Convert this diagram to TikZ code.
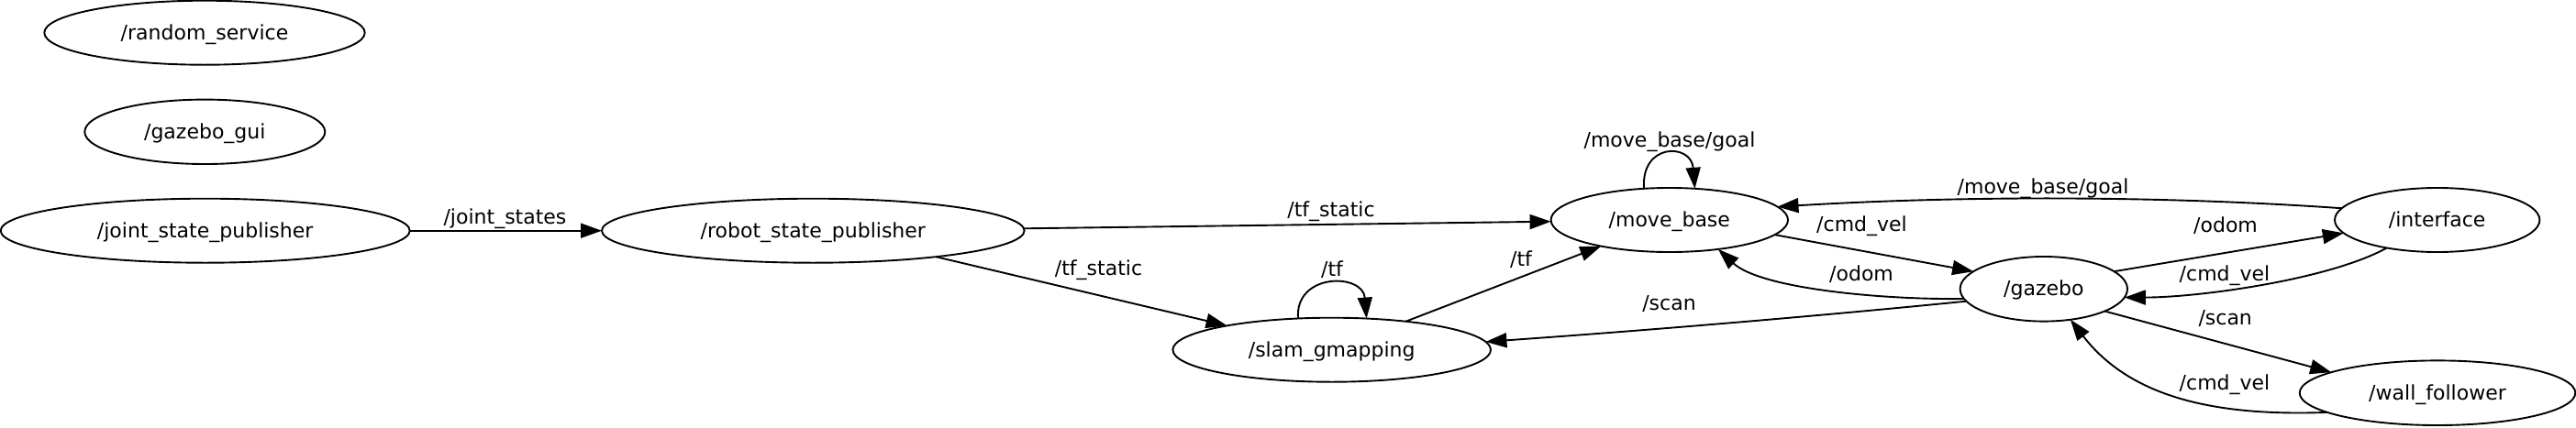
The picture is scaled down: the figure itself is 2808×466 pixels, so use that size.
\documentclass[tikz,border=0pt]{standalone}
\usepackage{fontspec}
\setmainfont{DejaVu Sans}
\usetikzlibrary{arrows.meta,shapes.geometric,calc}
\begin{document}
\begin{tikzpicture}[x=1pt,y=-1pt,line width=1.9pt,
  nd/.style={draw,ellipse,inner sep=0pt,outer sep=0pt,font=\fontsize{22}{26}\selectfont,text height=15.2pt,text depth=0pt},
  lbl/.style={anchor=base,inner sep=0pt,font=\fontsize{22}{26}\selectfont},
  arr/.style={-{Triangle[length=23pt,width=16pt]}}]
\useasboundingbox (0,0) rectangle (2808,466);
% nodes
\node[nd,minimum width=349.4pt,minimum height=70pt] (rs) at (223,35.7) {/random\_service};
\node[nd,minimum width=262pt,minimum height=70.4pt] (gg) at (223.3,143.8) {/gazebo\_gui};
\node[nd,minimum width=446pt,minimum height=70pt] (jsp) at (223.7,251.7) {/joint\_state\_publisher};
\node[nd,minimum width=460.6pt,minimum height=70pt] (rsp) at (886.3,251.7) {/robot\_state\_publisher};
\node[nd,minimum width=258.4pt,minimum height=70pt] (mb) at (1819.8,240) {/move\_base};
\node[nd,minimum width=346.6pt,minimum height=70pt] (sg) at (1451.7,381.7) {/slam\_gmapping};
\node[nd,minimum width=182.4pt,minimum height=70.6pt] (gz) at (2227.8,315.3) {/gazebo};
\node[nd,minimum width=223.4pt,minimum height=70pt] (itf) at (2656.7,240) {/interface};
\node[nd,minimum width=300.6pt,minimum height=70.6pt] (wf) at (2657,428.7) {/wall\_follower};
% edges
\draw[arr] (jsp.east) -- (rsp.west);
\draw[arr] ($(rsp.east)+(0,-2.4)$) -- ($(mb.west)+(0,1.7)$);
\draw[arr] (rsp.-12) -- (sg.167);
\draw[arr] (sg.137) .. controls +(-4,-50) and +(-4,-50) .. (sg.42);
\draw[arr] (sg.21) -- (mb.201);
\draw[arr] (mb.129) .. controls +(-4,-50) and +(-4,-50) .. (mb.51);
\draw[arr] (itf.173) .. controls +(-200,-14) and +(200,-12) .. (mb.7);
\draw[arr] (mb.-8) -- (gz.166);
\draw[arr] (gz.187) .. controls +(-86.7,1.3) and +(46.7,43.3) .. (mb.-31);
\draw[arr] (gz.189) .. controls +(-170,17) and +(170,-12) .. (sg.3);
\draw[arr] (gz.14) -- (itf.188);
\draw[arr] (itf.209) .. controls +(-61.7,34.3) and +(81.7,0) .. (gz.-6);
\draw[arr] (gz.-20) -- (wf.169);
\draw[arr] (wf.190) .. controls +(-131.7,5) and +(62.3,80.7) .. (gz.-49);
% labels
\node[lbl] (l1) at (550.5,244) {/joint\_states};
\node[lbl] (l2) at (1451,236.7) {/tf\_static};
\node[lbl] (l3) at (1197.5,300) {/tf\_static};
\node[lbl] (l4) at (1452,301.7) {/tf};
\node[lbl] (l5) at (1658,290.7) {/tf};
\node[lbl] (l6) at (1820,160.7) {/move\_base/goal};
\node[lbl] (l7) at (2227,211.5) {/move\_base/goal};
\node[lbl] (l8) at (2029.5,252.7) {/cmd\_vel};
\node[lbl] (l9) at (2029,306.7) {/odom};
\node[lbl] (l10) at (1819.5,338) {/scan};
\node[lbl] (l11) at (2426,253.5) {/odom};
\node[lbl] (l12) at (2425,306.7) {/cmd\_vel};
\node[lbl] (l13) at (2425.7,354) {/scan};
\node[lbl] (l14) at (2425,425) {/cmd\_vel};
\end{tikzpicture}
\end{document}
